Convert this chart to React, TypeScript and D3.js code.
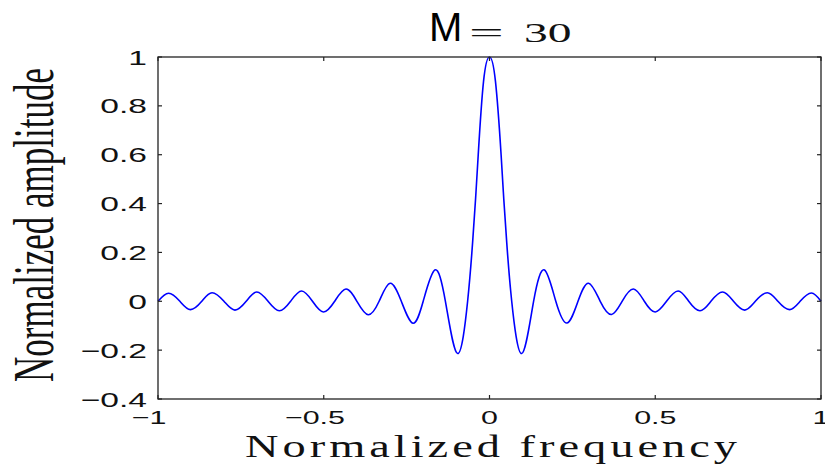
import React, { useRef, useEffect } from 'react';
import * as d3 from 'd3';

// values (extrema + zero crossings)
const freq = [
  -1.0, -0.968, -0.934, -0.902, -0.868, -0.837, -0.801, -0.768, -0.734, -0.702,
  -0.668, -0.634, -0.6, -0.567, -0.534, -0.501, -0.467, -0.433, -0.4, -0.366,
  -0.333, -0.3, -0.266, -0.231, -0.2, -0.165, -0.133, -0.096, -0.066, -0.051,
  -0.042, -0.034, -0.018, 0, 0.018, 0.035, 0.043, 0.052, 0.067, 0.097,
  0.133, 0.166, 0.2, 0.234, 0.267, 0.299, 0.334, 0.368, 0.4, 0.434,
  0.467, 0.5, 0.534, 0.569, 0.601, 0.635, 0.668, 0.703, 0.736, 0.77,
  0.802, 0.838, 0.87, 0.905, 0.937, 0.971, 1.0,
];
const amplitude = [
  0.0, 0.033, 0, -0.034, 0, 0.035, 0, -0.036, 0, 0.038,
  0, -0.039, 0, 0.042, 0, -0.044, 0, 0.05, 0, -0.055,
  0, 0.074, 0, -0.09, 0, 0.128, 0, -0.214, 0, 0.24,
  0.42, 0.6, 0.9, 1.0, 0.9, 0.6, 0.42, 0.24, 0, -0.214,
  0, 0.128, 0, -0.089, 0, 0.074, 0, -0.054, 0, 0.05,
  0, -0.044, 0, 0.042, 0, -0.039, 0, 0.038, 0, -0.036,
  0, 0.035, 0, -0.034, 0, 0.034, 0.0,
];

const xTicks = [-1, -0.5, 0, 0.5, 1];
const yTicks = [-0.4, -0.2, 0, 0.2, 0.4, 0.6, 0.8, 1];
const title = { name: 'M', eq: '=', value: '30' };
const xLabel = 'Normalized frequency';
const yLabel = 'Normalized amplitude';

const width = 825;
const height = 466;
const margin = { left: 158, right: 4, top: 57, bottom: 67 };
const stretch = 1.6; // the original figure is stretched horizontally

const App = () => {
  const svgRef = useRef<SVGSVGElement>(null);

  useEffect(() => {
    const svg = d3.select(svgRef.current);
    svg.selectAll('*').remove();

    const x = d3.scaleLinear().domain([-1, 1]).range([margin.left, width - margin.right]);
    const y = d3.scaleLinear().domain([-0.4, 1]).range([height - margin.bottom, margin.top]);
    const x0 = x(-1), x1 = x(1), y0 = y(-0.4), y1 = y(1);

    const g = svg.append('g');

    // curve
    const pts: [number, number][] = freq.map((f, i) => [f, amplitude[i]]);
    const line = d3.line<[number, number]>()
      .x(d => x(d[0]))
      .y(d => y(d[1]))
      .curve(d3.curveNatural);
    g.append('path')
      .attr('d', line(pts))
      .attr('fill', 'none')
      .attr('stroke', '#0000ff')
      .attr('stroke-width', 1.6);

    // box
    g.append('rect')
      .attr('x', x0).attr('y', y1)
      .attr('width', x1 - x0).attr('height', y0 - y1)
      .attr('fill', 'none')
      .attr('stroke', '#222')
      .attr('stroke-width', 1.3);

    const tk = 4;
    xTicks.forEach(t => {
      g.append('line').attr('x1', x(t)).attr('x2', x(t)).attr('y1', y0).attr('y2', y0 - tk)
        .attr('stroke', '#222').attr('stroke-width', 1.2);
      g.append('line').attr('x1', x(t)).attr('x2', x(t)).attr('y1', y1).attr('y2', y1 + tk)
        .attr('stroke', '#222').attr('stroke-width', 1.2);
    });
    yTicks.forEach(t => {
      g.append('line').attr('x1', x0).attr('x2', x0 + tk).attr('y1', y(t)).attr('y2', y(t))
        .attr('stroke', '#222').attr('stroke-width', 1.2);
      g.append('line').attr('x1', x1).attr('x2', x1 - tk).attr('y1', y(t)).attr('y2', y(t))
        .attr('stroke', '#222').attr('stroke-width', 1.2);
    });

    const tickFont = '"Liberation Sans", Arial, sans-serif';
    const serif = '"Liberation Serif", "Times New Roman", serif';

    // x tick labels: number part centred on tick, minus hangs to the left
    xTicks.forEach(t => {
      const lg = g.append('g').attr('transform', `translate(${x(t)},${y0 + 25}) scale(${stretch},1)`);
      const num = lg.append('text')
        .attr('text-anchor', 'middle')
        .attr('font-family', tickFont)
        .attr('font-size', 19)
        .attr('fill', '#111')
        .text(String(Math.abs(t)));
      if (t < 0) {
        const w = (num.node() as SVGTextElement).getComputedTextLength();
        lg.append('text')
          .attr('x', -w / 2)
          .attr('text-anchor', 'end')
          .attr('font-family', tickFont)
          .attr('font-size', 19)
          .attr('fill', '#111')
          .text('\u2212');
      }
    });

    // y tick labels
    yTicks.forEach(t => {
      g.append('g')
        .attr('transform', `translate(${x0 - 11},${y(t) + 7.5}) scale(${stretch},1)`)
        .append('text')
        .attr('text-anchor', 'end')
        .attr('font-family', tickFont)
        .attr('font-size', 21)
        .attr('fill', '#111')
        .text(t < 0 ? '\u2212' + String(Math.abs(t)) : String(t));
    });

    // axis labels
    const xs = 1.45;
    g.append('g')
      .attr('transform', `translate(245,457) scale(${xs},1)`)
      .append('text')
      .attr('font-family', serif)
      .attr('font-size', 32)
      .attr('fill', '#111')
      .attr('textLength', 492 / xs)
      .attr('lengthAdjust', 'spacing')
      .text(xLabel);

    g.append('g')
      .attr('transform', `translate(53,225) scale(${stretch},1) rotate(-90)`)
      .append('text')
      .attr('text-anchor', 'middle')
      .attr('font-family', serif)
      .attr('font-size', 35)
      .attr('fill', '#111')
      .text(yLabel);

    // title
    g.append('text')
      .attr('x', 429).attr('y', 41)
      .attr('font-family', tickFont)
      .attr('font-size', 40)
      .attr('fill', '#000')
      .text(title.name);
    g.append('g')
      .attr('transform', `translate(469,42) scale(2.2,1)`)
      .append('text')
      .attr('font-family', serif)
      .attr('font-size', 28)
      .attr('fill', '#111')
      .text(title.eq);
    g.append('g')
      .attr('transform', `translate(524,42) scale(1.7,1)`)
      .append('text')
      .attr('font-family', serif)
      .attr('font-size', 28)
      .attr('fill', '#111')
      .text(title.value);
  }, []);

  return (
    <svg
      ref={svgRef}
      width={width}
      height={height}
      style={{ position: 'absolute', left: 0, top: 0, background: '#fff' }}
    />
  );
};

export default App;
